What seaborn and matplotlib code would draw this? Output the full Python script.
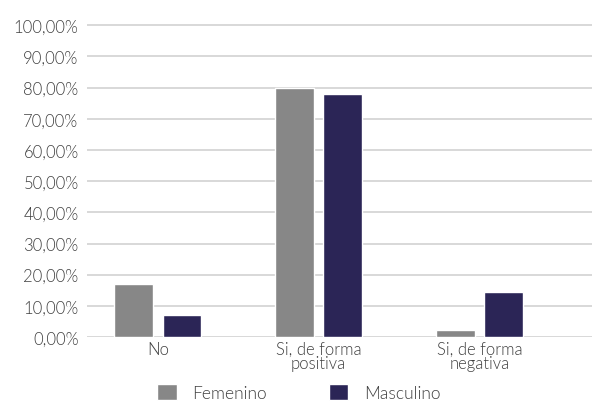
import matplotlib
matplotlib.use("Agg")
from matplotlib import pyplot as plt
import pandas as pd
import seaborn as sns

# values (percent)
categories = ["No", "Si, de forma\npositiva", "Si, de forma\nnegativa"]
femenino = [17.0, 80.0, 2.2]
masculino = [7.0, 78.0, 14.4]
series_names = ["Femenino", "Masculino"]
colors = ["#878787", "#2b2556"]
yticks = list(range(0, 101, 10))

df = pd.DataFrame({
    "cat": categories * 2,
    "val": femenino + masculino,
    "sexo": [series_names[0]] * 3 + [series_names[1]] * 3,
})

sns.set_style("white")
plt.rcParams["font.family"] = ["Lato", "DejaVu Sans"]
plt.rcParams["font.weight"] = 300
text_col = "#404040"

fig = plt.figure(figsize=(5.92, 4.02), dpi=100)
ax = fig.add_axes([0.147, 0.159, 0.853, 0.778])

sns.barplot(data=df, x="cat", y="val", hue="sexo", palette=colors,
            width=0.6, gap=0.2, saturation=1, ax=ax, zorder=3)

ax.set_ylim(0, 100.3)
ax.set_xlim(-0.44, 2.7)
ax.set_yticks(yticks)
ax.set_yticklabels([f"{v:.2f}".replace(".", ",") + "%" for v in yticks])
ax.yaxis.grid(True, color="#d2d2d2", linewidth=1.2, zorder=0)
ax.xaxis.grid(False)
for s in ax.spines.values():
    s.set_visible(False)
ax.tick_params(axis="both", length=0, labelsize=12, labelcolor=text_col)
ax.tick_params(axis="x", pad=3)
ax.tick_params(axis="y", pad=6)
for lbl in ax.get_xticklabels():
    lbl.set_linespacing(0.85)
ax.set_xlabel("")
ax.set_ylabel("")

handles, labels = ax.get_legend_handles_labels()
ax.legend(handles, labels, loc="center", bbox_to_anchor=(0.505, 0.022),
          bbox_transform=fig.transFigure, ncol=2, frameon=False,
          handlelength=1.1, handleheight=1.1, handletextpad=0.9,
          columnspacing=3.6, prop={"size": 12.5, "weight": 300},
          labelcolor=text_col)

fig.savefig("out.png", dpi=100)
